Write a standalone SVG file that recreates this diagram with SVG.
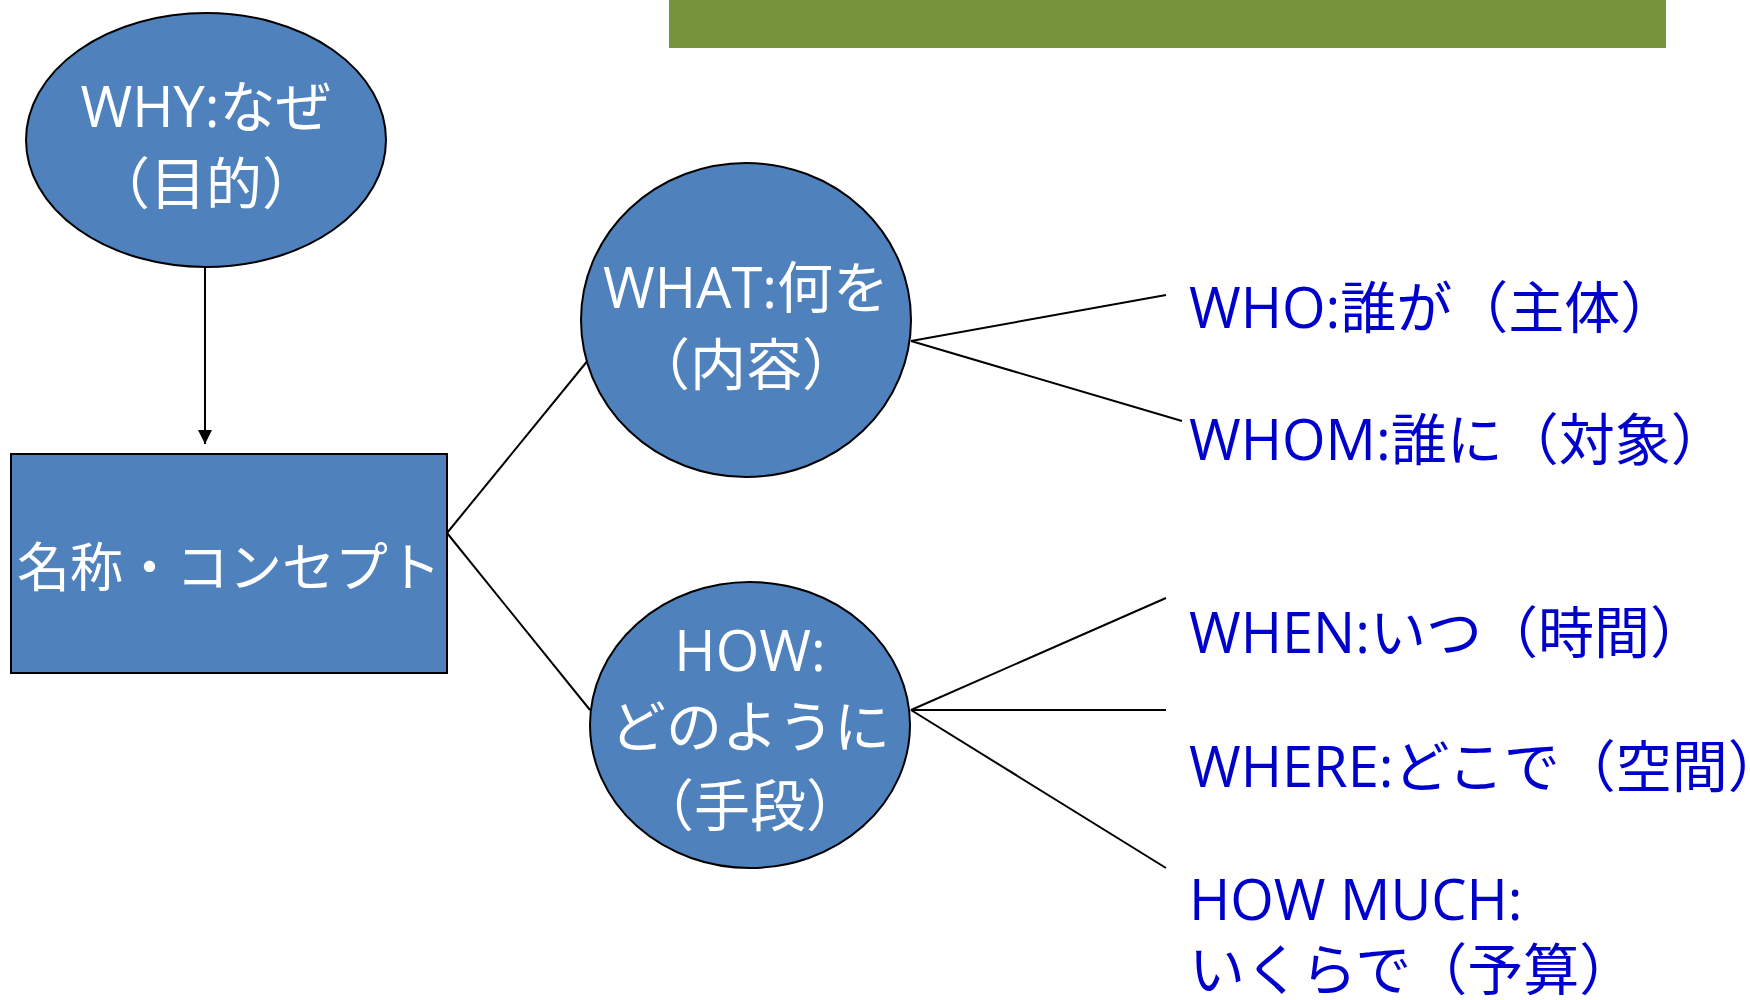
<svg xmlns="http://www.w3.org/2000/svg" width="1750" height="1000" viewBox="0 0 1750 1000">
<style>
.node{fill:#4F81BD;stroke:#000;stroke-width:2}
.nt{font-family:"Open Sans","Noto Sans CJK JP",sans-serif;font-size:56px;fill:#fff;text-anchor:middle}
.lt{font-family:"Open Sans","Noto Sans CJK JP",sans-serif;font-size:56px;fill:#0000CC}
.conn{stroke:#000;stroke-width:2;fill:none}
</style>
<defs>
<marker id="arr" markerWidth="14" markerHeight="16" refX="14" refY="7" orient="auto" markerUnits="userSpaceOnUse">
<path d="M0,0 L14,7 L0,14 z" fill="#000"/>
</marker>
</defs>
<rect x="669" y="0" width="997" height="48" fill="#77933C"/>
<g id="connectors">
<line class="conn" x1="205" y1="253" x2="205" y2="444" marker-end="url(#arr)"/>
<line class="conn" x1="447" y1="533" x2="589" y2="359"/>
<line class="conn" x1="447" y1="533" x2="590" y2="710"/>
<line class="conn" x1="911" y1="341" x2="1166" y2="295"/>
<line class="conn" x1="911" y1="341" x2="1182" y2="421"/>
<line class="conn" x1="911" y1="710" x2="1166" y2="598"/>
<line class="conn" x1="911" y1="710" x2="1166" y2="710"/>
<line class="conn" x1="911" y1="710" x2="1166" y2="868"/>
</g>
<g id="why">
<ellipse class="node" cx="206" cy="140" rx="180" ry="127"/>
<text class="nt" x="206" y="127">WHY:なぜ</text>
<text class="nt" x="206" y="204">（目的）</text>
</g>
<g id="concept">
<rect class="node" x="11" y="454" width="436" height="219"/>
<text class="nt" x="229" y="587" style="font-size:53px">名称・コンセプト</text>
</g>
<g id="what">
<ellipse class="node" cx="746" cy="320" rx="165" ry="157"/>
<text class="nt" x="746" y="308">WHAT:何を</text>
<text class="nt" x="746" y="385">（内容）</text>
</g>
<g id="how">
<ellipse class="node" cx="750" cy="725" rx="160" ry="143"/>
<text class="nt" x="750" y="671">HOW:</text>
<text class="nt" x="750" y="747">どのように</text>
<text class="nt" x="750" y="826">（手段）</text>
</g>
<g id="who"><text class="lt" x="1189" y="328">WHO:誰が（主体）</text></g>
<g id="whom"><text class="lt" x="1189" y="460">WHOM:誰に（対象）</text></g>
<g id="when"><text class="lt" x="1189" y="653">WHEN:いつ（時間）</text></g>
<g id="where"><text class="lt" x="1189" y="787">WHERE:どこで（空間）</text></g>
<g id="howmuch"><text class="lt" x="1189" y="920">HOW MUCH:</text><text class="lt" x="1189" y="990">いくらで（予算）</text></g>
</svg>
